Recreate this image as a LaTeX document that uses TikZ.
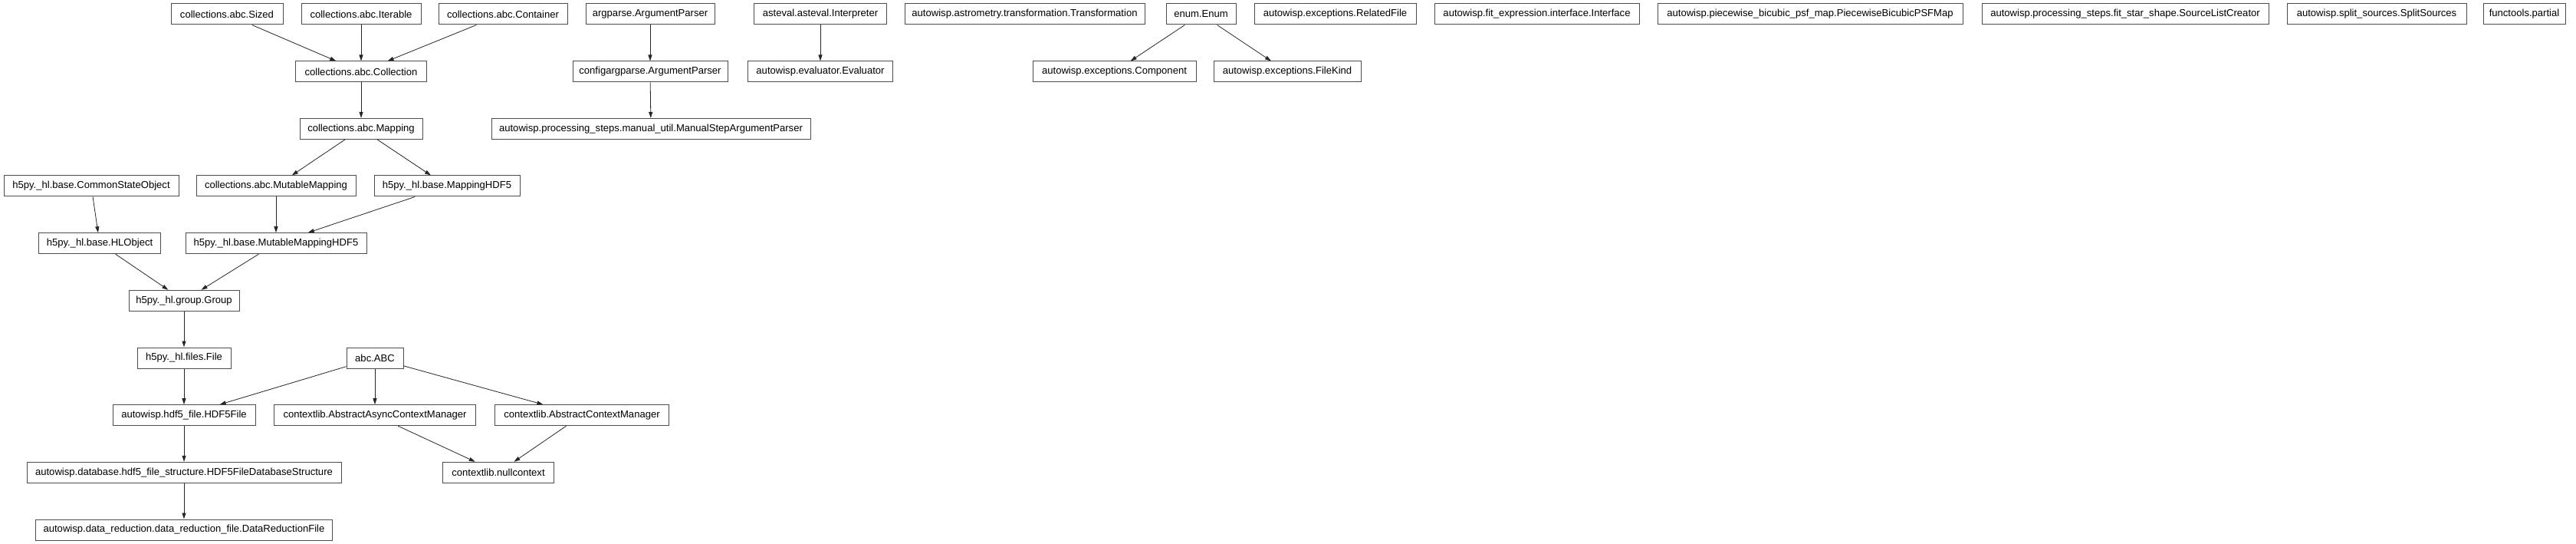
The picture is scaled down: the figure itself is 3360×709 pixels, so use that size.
\documentclass[tikz,border=0pt]{standalone}
\usepackage{fontspec}
\newfontfamily\clsfont{Liberation Sans}
\usetikzlibrary{arrows.meta}
\tikzset{
  cls/.style={draw=black!70, fill=white, line width=0.75pt, minimum height=20.25pt,
    inner xsep=1pt, inner ysep=0pt, font=\clsfont\fontsize{9.8}{11}\selectfont},
  edge/.style={draw=black!85, line width=0.6pt, -{Triangle[length=6pt,width=3.8pt]}}
}
\newcommand\cls[5]{\node[cls, minimum width={#4*0.75pt}] (#1) at (#2,#3) {#5};}
\begin{document}
\begin{tikzpicture}[x=0.75pt,y=-0.75pt]
\fill[white] (0,0) rectangle (3360,709);
\useasboundingbox (0,0) rectangle (3360,709);
\def\ra{18.5}\def\rb{93.5}\def\rc{167.8}\def\rd{242.5}\def\re{317.2}
\def\rf{391.8}\def\rg{466.5}\def\rh{541.2}\def\ri{615.8}\def\rj{690.5}
% rank 0
\cls{sized}{296}{\ra}{146}{collections.abc.Sized}
\cls{iterable}{471}{\ra}{156}{collections.abc.Iterable}
\cls{container}{656}{\ra}{168}{collections.abc.Container}
\cls{argparse}{848}{\ra}{168}{argparse.ArgumentParser}
\cls{asteval}{1070}{\ra}{173}{asteval.asteval.Interpreter}
\cls{transf}{1336.5}{\ra}{313}{autowisp.astrometry.transformation.Transformation}
\cls{enum}{1566.5}{\ra}{91}{enum.Enum}
\cls{related}{1741.5}{\ra}{211}{autowisp.exceptions.RelatedFile}
\cls{iface}{2004.5}{\ra}{267}{autowisp.fit\_expression.interface.Interface}
\cls{psfmap}{2361}{\ra}{398}{autowisp.piecewise\_bicubic\_psf\_map.PiecewiseBicubicPSFMap}
\cls{slc}{2772}{\ra}{374}{autowisp.processing\_steps.fit\_star\_shape.SourceListCreator}
\cls{split}{3100}{\ra}{234}{autowisp.split\_sources.SplitSources}
\cls{partial}{3292.5}{\ra}{107}{functools.partial}
% rank 1
\cls{collection}{471}{\rb}{171}{collections.abc.Collection}
\cls{configarg}{848}{\rb}{202}{configargparse.ArgumentParser}
\cls{evaluator}{1070}{\rb}{189}{autowisp.evaluator.Evaluator}
\cls{component}{1453.5}{\rb}{213}{autowisp.exceptions.Component}
\cls{filekind}{1679}{\rb}{192}{autowisp.exceptions.FileKind}
% rank 2
\cls{mapping}{471}{\rc}{160}{collections.abc.Mapping}
\cls{manual}{849}{\rc}{416}{autowisp.processing\_steps.manual\_util.ManualStepArgumentParser}
% rank 3
\cls{cso}{119}{\rd}{228}{h5py.\_hl.base.CommonStateObject}
\cls{mutmap}{360}{\rd}{208}{collections.abc.MutableMapping}
\cls{maphdf}{583}{\rd}{190}{h5py.\_hl.base.MappingHDF5}
% rank 4
\cls{hlobject}{130}{\re}{159}{h5py.\_hl.base.HLObject}
\cls{mmhdf}{360}{\re}{236}{h5py.\_hl.base.MutableMappingHDF5}
% rank 5
\cls{group}{240}{\rf}{144}{h5py.\_hl.group.Group}
% rank 6
\cls{file}{240}{\rg}{122}{h5py.\_hl.files.File}
\cls{abc}{489}{\rg}{74}{abc.ABC}
% rank 7
\cls{hdffile}{240}{\rh}{186}{autowisp.hdf5\_file.HDF5File}
\cls{aacm}{489}{\rh}{263}{contextlib.AbstractAsyncContextManager}
\cls{acm}{759}{\rh}{227}{contextlib.AbstractContextManager}
% rank 8
\cls{hdfdbs}{240}{\ri}{410}{autowisp.database.hdf5\_file\_structure.HDF5FileDatabaseStructure}
\cls{nullctx}{650}{\ri}{145}{contextlib.nullcontext}
% rank 9
\cls{drf}{240}{\rj}{387}{autowisp.data\_reduction.data\_reduction\_file.DataReductionFile}
% edges
\draw[edge] (sized) -- (collection);
\draw[edge] (iterable) -- (collection);
\draw[edge] (container) -- (collection);
\draw[edge] (collection) -- (mapping);
\draw[edge] (mapping) -- (mutmap);
\draw[edge] (mapping) -- (maphdf);
\draw[edge] (mutmap) -- (mmhdf);
\draw[edge] (maphdf) -- (mmhdf);
\draw[edge] (cso) -- (hlobject);
\draw[edge] (hlobject) -- (group);
\draw[edge] (mmhdf) -- (group);
\draw[edge] (group) -- (file);
\draw[edge] (file) -- (hdffile);
\draw[edge] (abc) -- (hdffile);
\draw[edge] (abc) -- (aacm);
\draw[edge] (abc) -- (acm);
\draw[edge] (hdffile) -- (hdfdbs);
\draw[edge] (hdfdbs) -- (drf);
\draw[edge] (aacm) -- (nullctx);
\draw[edge] (acm) -- (nullctx);
\draw[edge] (argparse) -- (configarg);
\draw[edge] (configarg) -- (manual);
\draw[edge] (asteval) -- (evaluator);
\draw[edge] (enum) -- (component);
\draw[edge] (enum) -- (filekind);
\end{tikzpicture}
\end{document}
